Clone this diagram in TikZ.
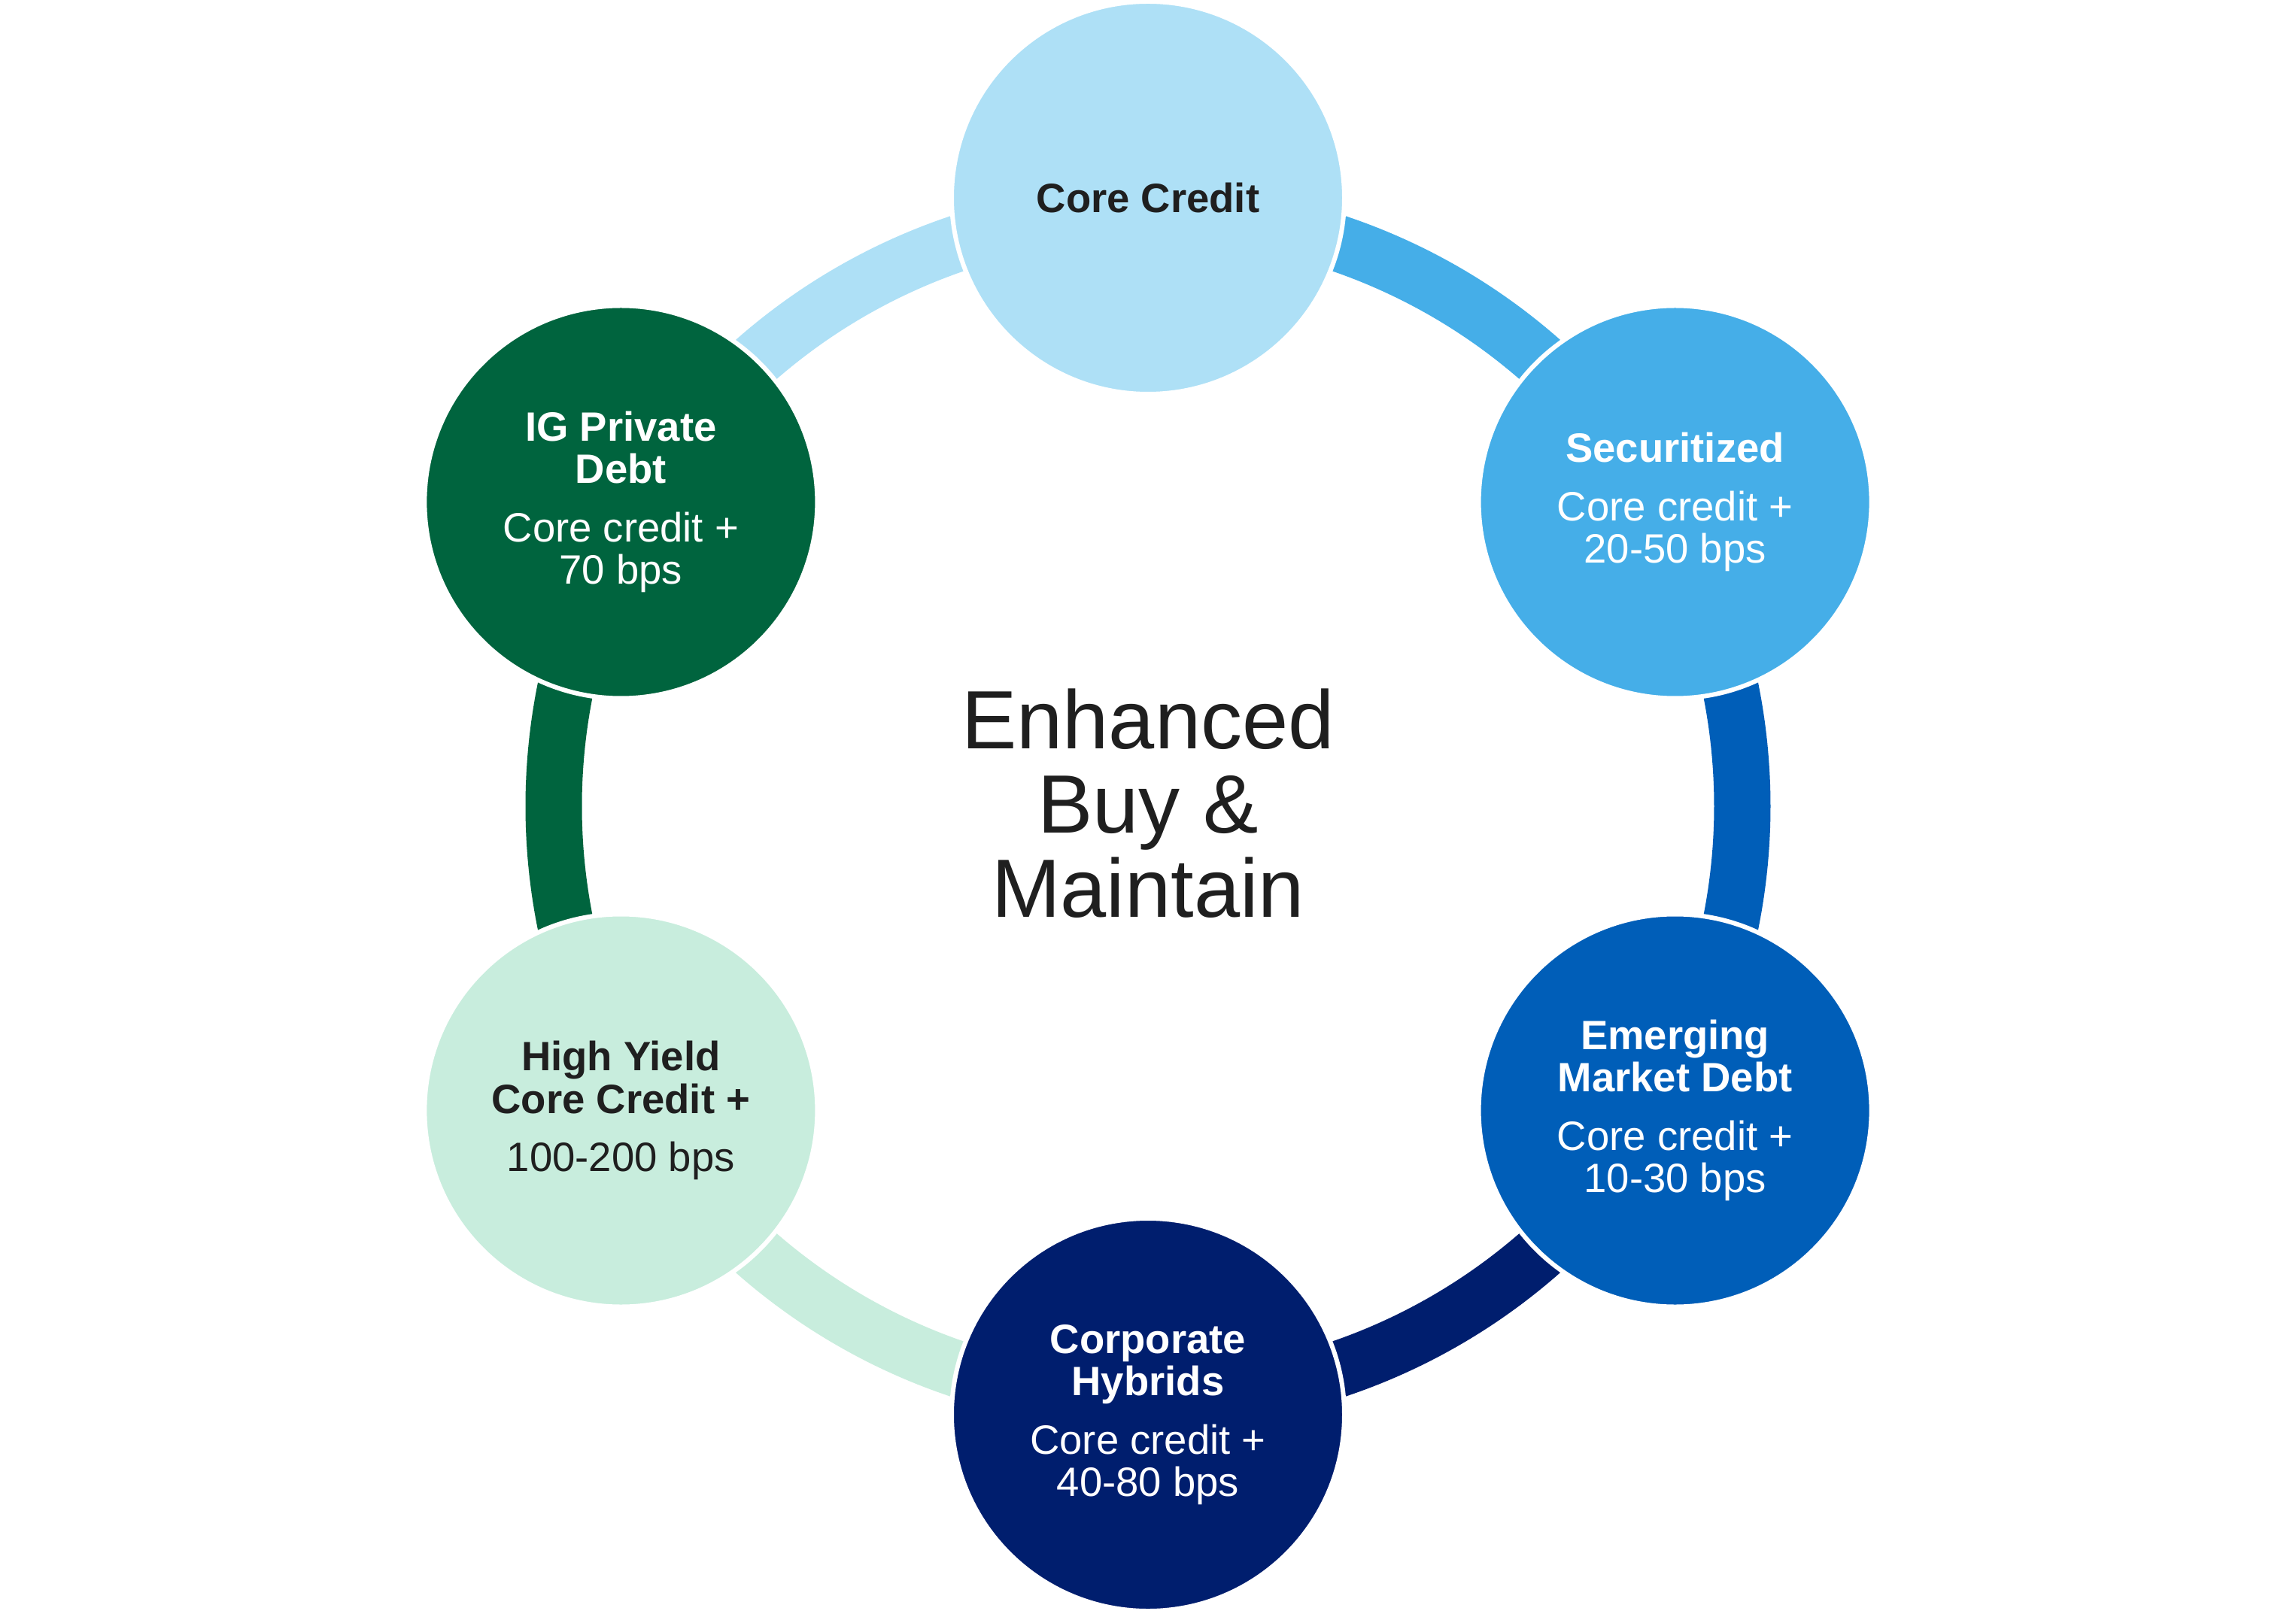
\documentclass[tikz,border=0pt]{standalone}
\usepackage{fontspec}
\setmainfont{Liberation Sans}
\usepackage{tikz}
\usetikzlibrary{
    calc,
    backgrounds
}
\definecolor{CoreSky}{RGB}{174,224,246}
\definecolor{SecBlue}{RGB}{69,174,232}
\definecolor{EmdBlue}{RGB}{0,94,184}
\definecolor{HybNavy}{RGB}{0,30,110}
\definecolor{HyMint}{RGB}{200,237,221}
\definecolor{IgGreen}{RGB}{0,100,62}
\definecolor{InkGray}{RGB}{31,31,31}
\tikzset{
  bubble/.style  = {circle, draw=white, line width=0.06cm,
                    minimum size=5.22cm, inner sep=0pt, align=center,
                    font=\fontsize{15.5}{16}\selectfont},
  ringseg/.style = {line width=0.75cm}
}
\newcommand{\ringR}{7.90}

\begin{document}
\begin{tikzpicture}[
    lightb/.style = {bubble, text=InkGray},
    darkb/.style  = {bubble, text=white},
    hubtxt/.style = {align=center, text=InkGray, inner sep=0pt,
                     font=\fontsize{31.3}{31.8}\selectfont},
  ]
  \useasboundingbox (-15.26,-10.73) rectangle (15.26,10.72);

  \node[hubtxt] (hub) at (0,0.04) {Enhanced\\Buy \&\\Maintain};

  \node[lightb, fill=CoreSky] (core) at (90:8.09)
       {\textbf{Core Credit}};
  \node[darkb, fill=SecBlue]  (sec)  at (30:8.09)
       {\textbf{Securitized}\\[6pt]Core credit +\\20-50 bps};
  \node[darkb, fill=EmdBlue]  (emd)  at (-30:8.09)
       {\textbf{Emerging}\\\textbf{Market Debt}\\[6pt]Core credit +\\10-30 bps};
  \node[darkb, fill=HybNavy]  (hyb)  at (-90:8.09)
       {\textbf{Corporate}\\\textbf{Hybrids}\\[6pt]Core credit +\\40-80 bps};
  \node[lightb, fill=HyMint]  (hy)   at (-150:8.09)
       {\textbf{High Yield}\\\textbf{Core Credit +}\\[6pt]100-200 bps};
  \node[darkb, fill=IgGreen]  (igpd) at (150:8.09)
       {\textbf{IG Private}\\\textbf{Debt}\\[6pt]Core credit +\\70 bps};

  % ring segments, each in the colour of the node it runs into
  \begin{scope}[on background layer]
    \draw[ringseg, SecBlue] ($(core.center)!0.19cm!(0,0)$)
         arc[start angle=90, delta angle=-60, radius=\ringR];
    \draw[ringseg, EmdBlue] ($(sec.center)!0.19cm!(0,0)$)
         arc[start angle=30, delta angle=-60, radius=\ringR];
    \draw[ringseg, HybNavy] ($(emd.center)!0.19cm!(0,0)$)
         arc[start angle=-30, delta angle=-60, radius=\ringR];
    \draw[ringseg, HyMint]  ($(hyb.center)!0.19cm!(0,0)$)
         arc[start angle=-90, delta angle=-60, radius=\ringR];
    \draw[ringseg, IgGreen] ($(hy.center)!0.19cm!(0,0)$)
         arc[start angle=-150, delta angle=-60, radius=\ringR];
    \draw[ringseg, CoreSky] ($(igpd.center)!0.19cm!(0,0)$)
         arc[start angle=150, delta angle=-60, radius=\ringR];
  \end{scope}

\end{tikzpicture}
\end{document}
